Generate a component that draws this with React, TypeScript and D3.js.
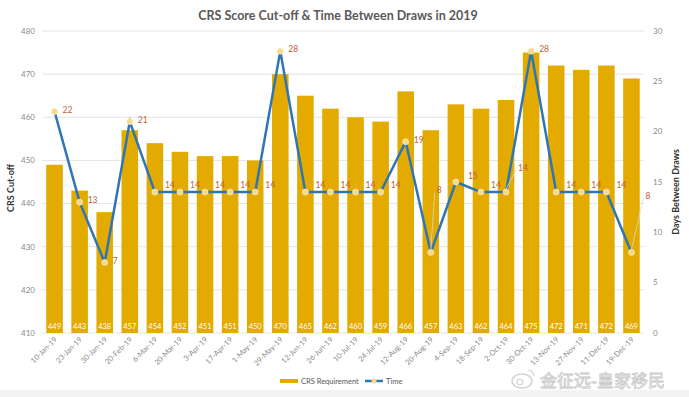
import React from "react";
import * as d3 from "d3";

const dates = ["10-Jan-19","23-Jan-19","30-Jan-19","20-Feb-19","6-Mar-19","20-Mar-19","3-Apr-19","17-Apr-19","1-May-19","29-May-19","12-Jun-19","26-Jun-19","10-Jul-19","24-Jul-19","12-Aug-19","20-Aug-19","4-Sep-19","18-Sep-19","2-Oct-19","30-Oct-19","13-Nov-19","27-Nov-19","11-Dec-19","19-Dec-19"];
const crs = [449,443,438,457,454,452,451,451,450,470,465,462,460,459,466,457,463,462,464,475,472,471,472,469];
const days = [22,13,7,21,14,14,14,14,14,28,14,14,14,14,19,8,15,14,14,28,14,14,14,8];
const leftTicks = [410,420,430,440,450,460,470,480];
const rightTicks = [0,5,10,15,20,25,30];

const W = 689, H = 397;
const M = { left: 42, right: 644, top: 31, bottom: 333 };
const FONT = "Lato, 'Open Sans', sans-serif";

export default function App() {
  const x = d3.scaleBand<string>().domain(dates).range([M.left, M.right]).paddingInner(0.34).paddingOuter(0.17);
  const yL = d3.scaleLinear().domain([410, 480]).range([M.bottom, M.top]);
  const yR = d3.scaleLinear().domain([0, 30]).range([M.bottom, M.top]);
  const cx = (d: string) => (x(d) as number) + x.bandwidth() / 2;
  const line = d3.line<number>().x((_, i) => cx(dates[i])).y((v) => yR(v));

  // label offsets (placement only)
  const labelOff = (i: number): [number, number] => {
    if (i === 15) return [6, -62];
    if (i === 23) return [14, -56];
    if (i === 18) return [12, -24];
    if (days[i] === 14) return [10, -7];
    if (days[i] === 15) return [12, -6];
    return [8, -2];
  };

  return (
    <svg width={W} height={H} style={{ position: "absolute", left: 0, top: 0, background: "#fff" }} fontFamily={FONT}>
      <rect x={0} y={0} width={W} height={H} fill="#fff" />
      <text x={338} y={20} textAnchor="middle" fontSize={12.5} fontWeight={700} fill="#595959">
        CRS Score Cut-off &amp; Time Between Draws in 2019
      </text>
      {leftTicks.map((t) => (
        <g key={t}>
          <line x1={M.left} x2={M.right} y1={yL(t)} y2={yL(t)} stroke="#e4e4e4" strokeWidth={1} />
          <text x={35} y={yL(t)} dy="0.35em" textAnchor="end" fontSize={8} fill="#8a8a8a">{t}</text>
        </g>
      ))}
      {rightTicks.map((t) => (
        <text key={t} x={653} y={yR(t)} dy="0.35em" textAnchor="start" fontSize={8} fill="#8a8a8a">{t}</text>
      ))}
      <text transform={`translate(14,188) rotate(-90)`} textAnchor="middle" fontSize={9} fontWeight={700} fill="#333">CRS Cut-off</text>
      <text transform={`translate(679,192) rotate(-90)`} textAnchor="middle" fontSize={9} fontWeight={700} fill="#333">Days Between Draws</text>
      {dates.map((d, i) => (
        <g key={d}>
          <rect x={x(d)} y={yL(crs[i])} width={x.bandwidth()} height={M.bottom - yL(crs[i])} fill="#e3aa00" />
          <text x={cx(d)} y={326} dy="0.35em" textAnchor="middle" fontSize={7.5} fill="#fff">{crs[i]}</text>
          <text transform={`translate(${cx(d) + 3},${340}) rotate(-45)`} textAnchor="end" fontSize={7.5} fill="#8a8a8a">{d}</text>
        </g>
      ))}
      <path d={line(days) || ""} fill="none" stroke="#2e75b6" strokeWidth={2.5} />
      {days.map((v, i) => {
        const [dx, dy] = labelOff(i);
        const px = cx(dates[i]), py = yR(v);
        return (
          <g key={i}>
            {dy < -10 && (
              <line x1={px} y1={py - 3} x2={px + dx - 2} y2={py + dy + 2} stroke="#d8d8d8" strokeWidth={0.8} />
            )}
            <circle cx={px} cy={py} r={3} fill="#f6d98a" stroke="#fbe9b5" strokeWidth={0.8} />
            <text x={px + dx} y={py + dy} dy="0.35em" fontSize={8.5} fill="#c0603a">{v}</text>
          </g>
        );
      })}
      <rect x={280} y={379} width={18} height={4} fill="#e3aa00" />
      <text x={301} y={381} dy="0.35em" fontSize={7.5} fill="#595959">CRS Requirement</text>
      <line x1={365} x2={383} y1={381} y2={381} stroke="#2e75b6" strokeWidth={2.5} />
      <circle cx={374} cy={381} r={2.5} fill="#f6d98a" />
      <text x={386} y={381} dy="0.35em" fontSize={7.5} fill="#595959">Time</text>
      <rect x={0} y={390} width={W} height={7} fill="#f3f3f3" />
      <g opacity={0.9}>
        <ellipse cx={522} cy={381} rx={10} ry={7} fill="none" stroke="#cfcfcf" strokeWidth={1.5} />
        <circle cx={520} cy={382} r={3} fill="none" stroke="#cfcfcf" strokeWidth={1.2} />
        <path d="M528 370 a6 6 0 0 1 6 6" fill="none" stroke="#cfcfcf" strokeWidth={1.2} />
        <text x={540} y={387} fontSize={17} fontFamily="'Noto Sans CJK SC', sans-serif" fill="#f7f7f7" stroke="#c4c4c4" strokeWidth={0.8}>金征远-皇家移民</text>
      </g>
    </svg>
  );
}
